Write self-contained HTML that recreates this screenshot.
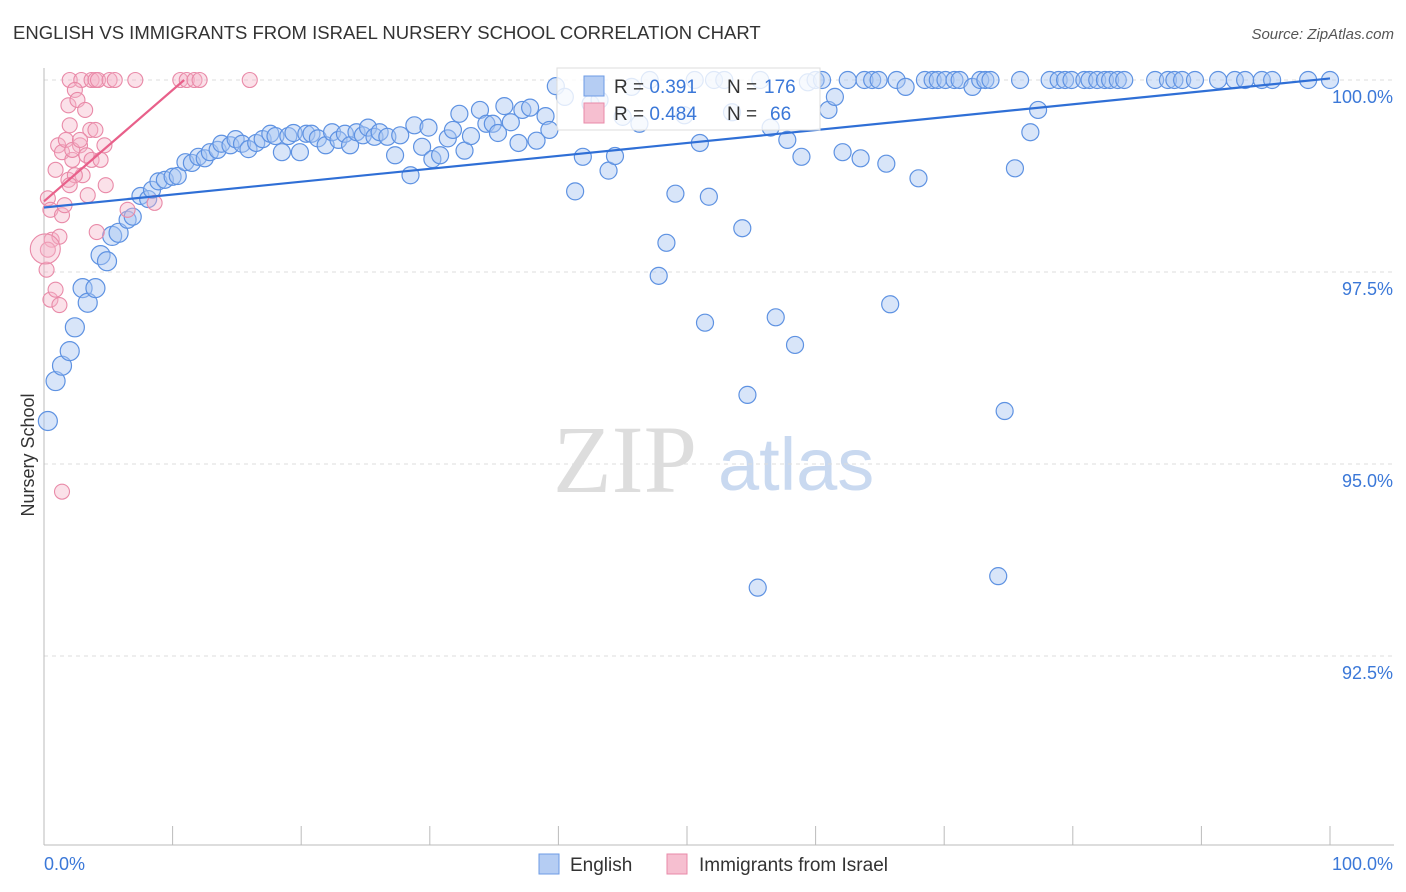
<!DOCTYPE html>
<html><head><meta charset="utf-8"><style>
body{margin:0;background:#fff;font-family:"Liberation Sans",sans-serif;}
svg{display:block}
</style></head><body>
<svg id="chart" width="1406" height="892" xmlns="http://www.w3.org/2000/svg">
<text x="13" y="39" font-size="18.5" fill="#333">ENGLISH VS IMMIGRANTS FROM ISRAEL NURSERY SCHOOL CORRELATION CHART</text>
<text x="1394" y="39" font-size="15" fill="#555" font-style="italic" text-anchor="end">Source: ZipAtlas.com</text>
<text x="34" y="455" font-size="18" fill="#333" text-anchor="middle" transform="rotate(-90 34 455)">Nursery School</text>
<g>
<text x="553" y="492" font-size="96" font-family="Liberation Serif,serif" fill="#ddd">ZIP</text>
<text x="718" y="490" font-size="74" fill="#c9d9f0">atlas</text>
</g>
<g id="grid"></g><g id="marks"></g>
<g>
<rect x="557" y="68" width="263" height="62" fill="#fff" fill-opacity="0.8" stroke="#ddd"/>
<rect x="584" y="76" width="20" height="20" fill="#b5cdf3" stroke="#6d9be6"/>
<text x="614" y="93" font-size="19" fill="#333">R = <tspan fill="#3b78d8">0.391</tspan><tspan x="727">N = </tspan><tspan fill="#3b78d8" x="764">176</tspan></text>
<rect x="584" y="103" width="20" height="20" fill="#f6bfd0" stroke="#e88aa8"/>
<text x="614" y="120" font-size="19" fill="#333">R = <tspan fill="#3b78d8">0.484</tspan><tspan x="727">N = </tspan><tspan fill="#3b78d8" x="770">66</tspan></text>
</g>
<g>
<rect x="539" y="854" width="20" height="20" fill="#b5cdf3" stroke="#6d9be6"/>
<text x="570" y="871" font-size="19" fill="#333">English</text>
<rect x="667" y="854" width="20" height="20" fill="#f6bfd0" stroke="#e88aa8"/>
<text x="699" y="871" font-size="19" fill="#333">Immigrants from Israel</text>
</g>
<text x="44" y="870" font-size="18" fill="#3b78d8">0.0%</text>
<text x="1393" y="870" font-size="18" fill="#3b78d8" text-anchor="end">100.0%</text>
</svg>
<script>
const yTicks=[100,97.5,95,92.5];
const yTickLabels=["100.0%","97.5%","95.0%","92.5%"];
const xTicks=[0,10,20,30,40,50,60,70,80,90,100];
const englishX=[0.3,0.9,1.4,2.0,2.4,3.0,3.4,4.0,4.4,4.9,5.3,5.8,6.5,6.9,7.5,8.1,8.4,8.9,9.4,10.0,10.4,11.0,11.5,12.0,12.5,12.9,13.5,13.8,14.5,14.9,15.4,15.9,16.5,17.0,17.6,18.0,18.5,19.0,19.4,19.9,20.4,20.8,21.3,21.9,22.4,22.9,23.4,23.8,24.3,24.8,25.2,25.7,26.1,26.7,27.3,27.7,28.5,28.8,29.4,29.9,30.2,30.8,31.4,31.8,32.3,32.7,33.2,33.9,34.4,34.9,35.3,35.8,36.3,36.9,37.2,37.8,38.3,39.0,39.3,39.8,40.5,41.3,41.9,42.5,43.2,43.9,44.4,45.0,45.7,46.3,47.1,47.8,48.4,49.1,49.8,50.6,51.0,51.4,51.7,52.1,52.9,53.5,54.3,54.7,55.5,55.7,56.5,56.9,57.8,58.4,58.9,59.4,60.0,60.5,61.0,61.5,62.1,62.5,63.5,63.8,64.4,64.9,65.5,65.8,66.3,67.0,68.0,68.5,69.1,69.5,70.1,70.8,71.2,72.2,72.8,73.2,73.6,74.2,74.7,75.5,75.9,76.7,77.3,78.2,78.9,79.4,79.9,80.9,81.3,81.9,82.5,82.9,83.5,84.0,86.4,87.4,87.9,88.5,89.5,91.3,92.6,93.4,94.7,95.5,98.3,100];
const englishY=[95.56,96.08,96.28,96.47,96.78,97.29,97.10,97.29,97.72,97.64,97.97,98.01,98.18,98.22,98.49,98.45,98.57,98.68,98.70,98.74,98.75,98.93,98.92,99.00,98.98,99.06,99.09,99.17,99.15,99.23,99.17,99.10,99.18,99.23,99.30,99.27,99.06,99.27,99.31,99.06,99.30,99.30,99.24,99.15,99.32,99.22,99.30,99.15,99.32,99.28,99.38,99.26,99.32,99.26,99.02,99.28,98.76,99.41,99.13,99.38,98.97,99.02,99.24,99.35,99.56,99.08,99.27,99.61,99.43,99.43,99.31,99.66,99.45,99.18,99.61,99.64,99.21,99.53,99.35,99.92,99.78,98.55,99.00,99.69,99.74,98.82,99.01,99.52,99.91,99.43,100,97.45,97.88,98.52,99.54,100,99.18,96.84,98.48,100,100,99.58,98.07,95.90,93.39,100,99.38,96.91,99.22,96.55,99.00,99.97,100,100,99.61,99.78,99.06,100,98.98,100,100,100,98.91,97.08,100,99.91,98.72,100,100,100,100,100,100,99.91,100,100,100,93.54,95.69,98.85,100,99.32,99.61,100,100,100,100,100,100,100,100,100,100,100,100,100,100,100,100,100,100,100,100,100,100,100];
const israelX=[2.0,2.9,3.7,4.0,4.2,5.1,5.5,7.1,10.6,11.1,11.7,12.1,16.0,0.3,0.5,0.6,0.5,1.4,0.9,1.1,1.4,1.7,1.9,2.0,2.2,2.4,2.6,2.8,3.0,3.2,3.3,3.6,3.7,4.0,4.4,4.7,4.8,4.1,3.4,1.2,1.2,0.9,1.4,1.6,1.9,2.4,6.5,8.6,0.3,0.2,2.0,2.2,2.8,0.1];
const israelY=[100,100,100,100,100,100,100,100,100,100,100,100,100,98.46,98.31,97.92,97.14,94.64,98.83,99.15,99.06,99.22,99.67,99.41,98.96,99.87,99.74,99.15,98.76,99.61,99.02,99.35,98.96,99.35,98.96,99.15,98.63,98.02,98.50,97.96,97.07,97.27,98.24,98.37,98.70,98.76,98.31,98.40,97.79,97.53,98.63,99.09,99.22,97.8];
const englishTrend=[0,98.34,100,100.02];
const israelTrend=[0,98.42,10.9,100];
const X0=44,X1=1330,Y100=80,PX_PER=76.8;
const sx=v=>X0+(X1-X0)*v/100;
const sy=v=>Y100+(100-v)*PX_PER;
const NS="http://www.w3.org/2000/svg";
const grid=document.getElementById('grid'),marks=document.getElementById('marks');
function mk(tag,attrs,parent){const e=document.createElementNS(NS,tag);for(const k in attrs)e.setAttribute(k,attrs[k]);parent.appendChild(e);return e;}
yTicks.forEach((t,i)=>{
 const l=mk('line',{x1:44,x2:1394,y1:sy(t),y2:sy(t),stroke:'#ddd','stroke-dasharray':'4 4'},grid);
 
 
 const tx=mk('text',{x:1393,y:sy(t)+23,'font-size':18,fill:'#3b78d8','text-anchor':'end'},grid);
 tx.textContent=yTickLabels[i];
 
 
});
const ax=mk('line',{x1:44,x2:1394,y1:845,y2:845,stroke:'#bbb'},grid);


const ay=mk('line',{x1:44,x2:44,y1:68,y2:845,stroke:'#bbb'},grid);


xTicks.forEach(t=>{
 const l=mk('line',{x1:sx(t),x2:sx(t),y1:826,y2:845,stroke:'#bbb'},grid);
 
 
});
englishX.forEach((x,i)=>{
 const c=mk('circle',{cx:sx(x),cy:sy(englishY[i]),r:i<12?9.5:8.5,fill:'#a9c6f2','fill-opacity':0.45,stroke:'#5e92e2','stroke-width':1.2},marks);
 
 
});
israelX.forEach((x,i)=>{
 const c=mk('circle',{cx:sx(x),cy:sy(israelY[i]),r:i===israelX.length-1?15:7.5,fill:'#f5b5c9','fill-opacity':0.4,stroke:'#e98aa8','stroke-width':1.1},marks);
 
 
});
const t1=mk('line',{x1:sx(englishTrend[0]),y1:sy(englishTrend[1]),x2:sx(englishTrend[2]),y2:sy(englishTrend[3]),stroke:'#2f6fd6','stroke-width':2.2},marks);


const t2=mk('line',{x1:sx(israelTrend[0]),y1:sy(israelTrend[1]),x2:sx(israelTrend[2]),y2:sy(israelTrend[3]),stroke:'#e8608a','stroke-width':2.2},marks);


</script>
</body></html>
